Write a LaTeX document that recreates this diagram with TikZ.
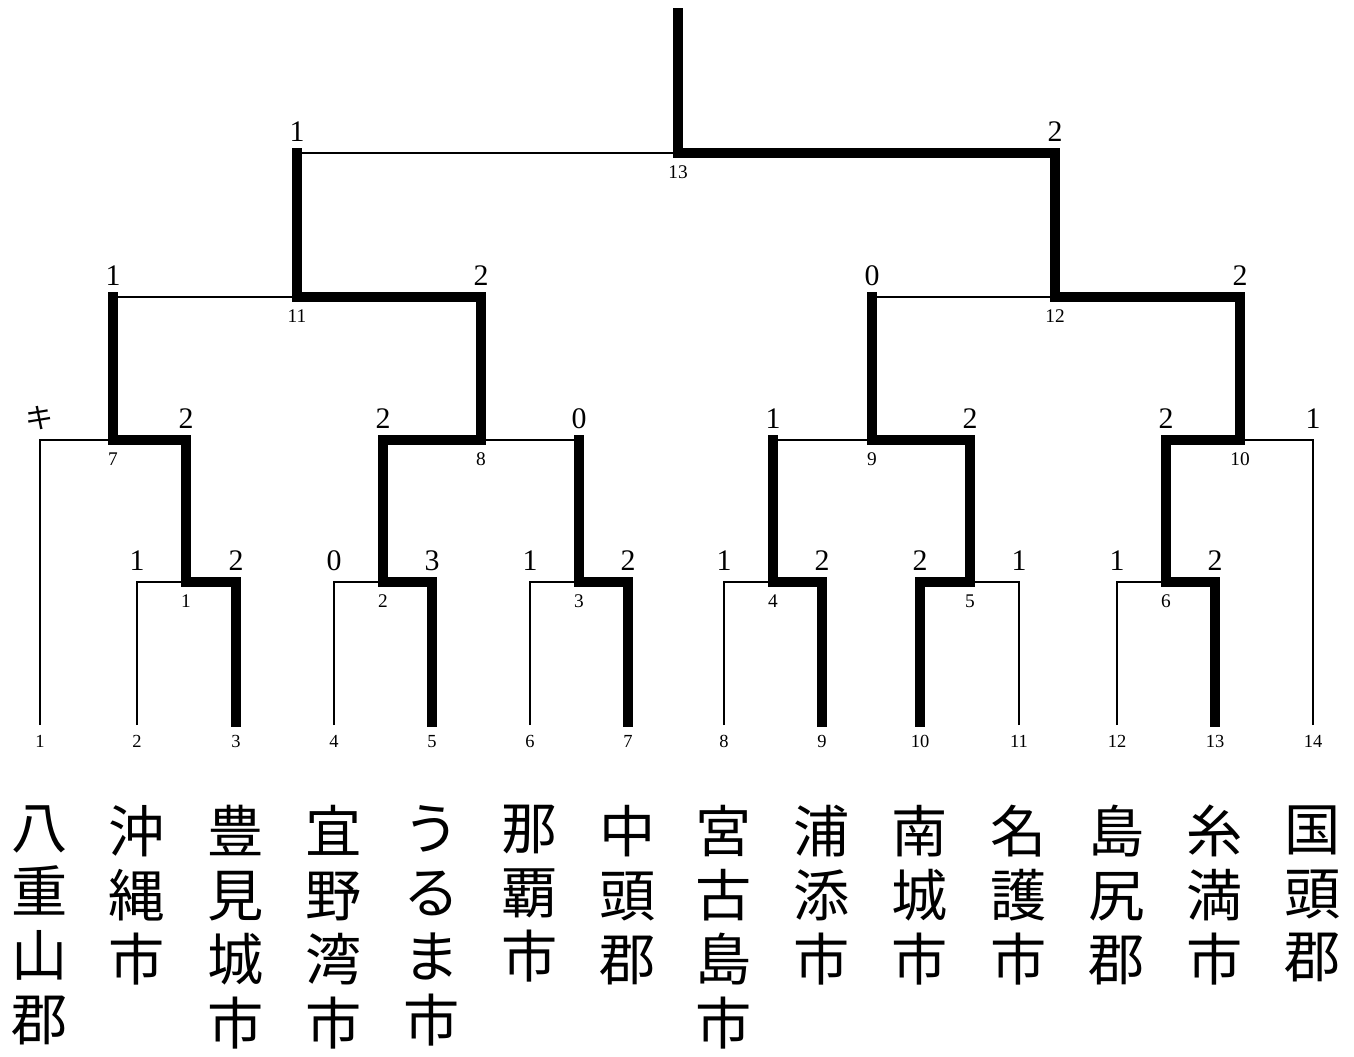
\documentclass[tikz,border=0pt]{standalone}
\usepackage{fontspec}
\setmainfont{Liberation Serif}
\newfontfamily\jp{Noto Sans CJK JP}
\usepackage{tikz}
\usetikzlibrary{positioning}

\begin{document}
\begin{tikzpicture}[x=0.02cm, y=-0.02cm,
  lost/.style={line width=0.6pt},
  won/.style={line width=5.6pt, line cap=rect},
  score/.style={anchor=base, inner sep=0pt, font=\fontsize{17}{17}\selectfont},
  game/.style={anchor=base, inner sep=0pt, font=\fontsize{11}{11}\selectfont},
  seed/.style={anchor=base, inner sep=0pt, font=\fontsize{10.5}{10.5}\selectfont},
  city/.style={anchor=north, inner sep=0pt, align=center,
    font=\jp\fontsize{32}{36.4}\selectfont, execute at begin node=\rule{0pt}{30pt}}]

  \useasboundingbox (0,0) rectangle (1354,1056);

  % Teams (foot of each line)
  \coordinate (t1) at (40,725);   \coordinate (t2) at (137,725);
  \coordinate (t3) at (236,722);  \coordinate (t4) at (334,725);
  \coordinate (t5) at (432,722);  \coordinate (t6) at (530,725);
  \coordinate (t7) at (628,722);  \coordinate (t8) at (724,725);
  \coordinate (t9) at (822,722);  \coordinate (t10) at (920,722);
  \coordinate (t11) at (1019,725); \coordinate (t12) at (1117,725);
  \coordinate (t13) at (1215,722); \coordinate (t14) at (1313,725);

  % Games
  \coordinate (m1) at (186,582);  \coordinate (m2) at (383,582);
  \coordinate (m3) at (579,582);  \coordinate (m4) at (773,582);
  \coordinate (m5) at (970,582);  \coordinate (m6) at (1166,582);
  \coordinate (m7) at (113,440);  \coordinate (m8) at (481,440);
  \coordinate (m9) at (872,440);  \coordinate (m10) at (1240,440);
  \coordinate (m11) at (297,297); \coordinate (m12) at (1055,297);
  \coordinate (m13) at (678,153); \coordinate (champ) at (678,13);

  % Losing lines
  \draw[lost] (t2) |- (m1);  \draw[lost] (t4) |- (m2);
  \draw[lost] (t6) |- (m3);  \draw[lost] (t8) |- (m4);
  \draw[lost] (t11) |- (m5); \draw[lost] (t12) |- (m6);
  \draw[lost] (t1) |- (m7);  \draw[lost] (t14) |- (m10);
  \draw[lost] (m3 |- m8) -- (m8);
  \draw[lost] (m4 |- m9) -- (m9);
  \draw[lost] (m7 |- m11) -- (m11);
  \draw[lost] (m9 |- m12) -- (m12);
  \draw[lost] (m11 |- m13) -- (m13);

  % Winning lines
  \draw[won] (t3) |- (m1);  \draw[won] (t5) |- (m2);
  \draw[won] (t7) |- (m3);  \draw[won] (t9) |- (m4);
  \draw[won] (t10) |- (m5); \draw[won] (t13) |- (m6);
  \draw[won] (m1) |- (m7);  \draw[won] (m2) |- (m8);
  \draw[won] (m5) |- (m9);  \draw[won] (m6) |- (m10);
  \draw[won] (m8) |- (m11); \draw[won] (m10) |- (m12);
  \draw[won] (m12) |- (m13); \draw[won] (m13) -- (champ);
  \draw[won] (m3) -- (m3 |- m8);
  \draw[won] (m4) -- (m4 |- m9);
  \draw[won] (m7) -- (m7 |- m11);
  \draw[won] (m9) -- (m9 |- m12);
  \draw[won] (m11) -- (m11 |- m13);

  % Scores
  \node[score] (s2) at (137,570) {1};   \node[score] (s3) at (236,570) {2};
  \node[score] (s4) at (334,570) {0};   \node[score] (s5) at (432,570) {3};
  \node[score] (s6) at (530,570) {1};   \node[score] (s7) at (628,570) {2};
  \node[score] (s8) at (724,570) {1};   \node[score] (s9) at (822,570) {2};
  \node[score] (s10) at (920,570) {2};  \node[score] (s11) at (1019,570) {1};
  \node[score] (s12) at (1117,570) {1}; \node[score] (s13) at (1215,570) {2};
  \node[anchor=south, inner sep=0pt, font=\jp\fontsize{16}{16}\selectfont] (s1) at (40,430) {キ};
  \node[score] (sm1) at (186,428) {2};  \node[score] (sm2) at (383,428) {2};
  \node[score] (sm3) at (579,428) {0};  \node[score] (sm4) at (773,428) {1};
  \node[score] (sm5) at (970,428) {2};  \node[score] (sm6) at (1166,428) {2};
  \node[score] (s14) at (1313,428) {1};
  \node[score] (sm7) at (113,285) {1};  \node[score] (sm8) at (481,285) {2};
  \node[score] (sm9) at (872,285) {0};  \node[score] (sm10) at (1240,285) {2};
  \node[score] (sm11) at (297,141) {1}; \node[score] (sm12) at (1055,141) {2};

  % Game numbers
  \node[game] (g1) at (186,607) {1};   \node[game] (g2) at (383,607) {2};
  \node[game] (g3) at (579,607) {3};   \node[game] (g4) at (773,607) {4};
  \node[game] (g5) at (970,607) {5};   \node[game] (g6) at (1166,607) {6};
  \node[game] (g7) at (113,465) {7};   \node[game] (g8) at (481,465) {8};
  \node[game] (g9) at (872,465) {9};   \node[game] (g10) at (1240,465) {10};
  \node[game] (g11) at (297,322) {11}; \node[game] (g12) at (1055,322) {12};
  \node[game] (g13) at (678,178) {13};

  % Seed numbers
  \node[seed] (n1) at (40,747) {1};    \node[seed] (n2) at (137,747) {2};
  \node[seed] (n3) at (236,747) {3};   \node[seed] (n4) at (334,747) {4};
  \node[seed] (n5) at (432,747) {5};   \node[seed] (n6) at (530,747) {6};
  \node[seed] (n7) at (628,747) {7};   \node[seed] (n8) at (724,747) {8};
  \node[seed] (n9) at (822,747) {9};   \node[seed] (n10) at (920,747) {10};
  \node[seed] (n11) at (1019,747) {11}; \node[seed] (n12) at (1117,747) {12};
  \node[seed] (n13) at (1215,747) {13}; \node[seed] (n14) at (1313,747) {14};

  % Team names
  \node[city] (c1) at (40,805) {八\\重\\山\\郡};
  \node[city] (c2) at (137,805) {沖\\縄\\市};
  \node[city] (c3) at (236,805) {豊\\見\\城\\市};
  \node[city] (c4) at (334,805) {宜\\野\\湾\\市};
  \node[city] (c5) at (432,805) {う\\る\\ま\\市};
  \node[city] (c6) at (530,805) {那\\覇\\市};
  \node[city] (c7) at (628,805) {中\\頭\\郡};
  \node[city] (c8) at (724,805) {宮\\古\\島\\市};
  \node[city] (c9) at (822,805) {浦\\添\\市};
  \node[city] (c10) at (920,805) {南\\城\\市};
  \node[city] (c11) at (1019,805) {名\\護\\市};
  \node[city] (c12) at (1117,805) {島\\尻\\郡};
  \node[city] (c13) at (1215,805) {糸\\満\\市};
  \node[city] (c14) at (1313,805) {国\\頭\\郡};
\end{tikzpicture}
\end{document}
